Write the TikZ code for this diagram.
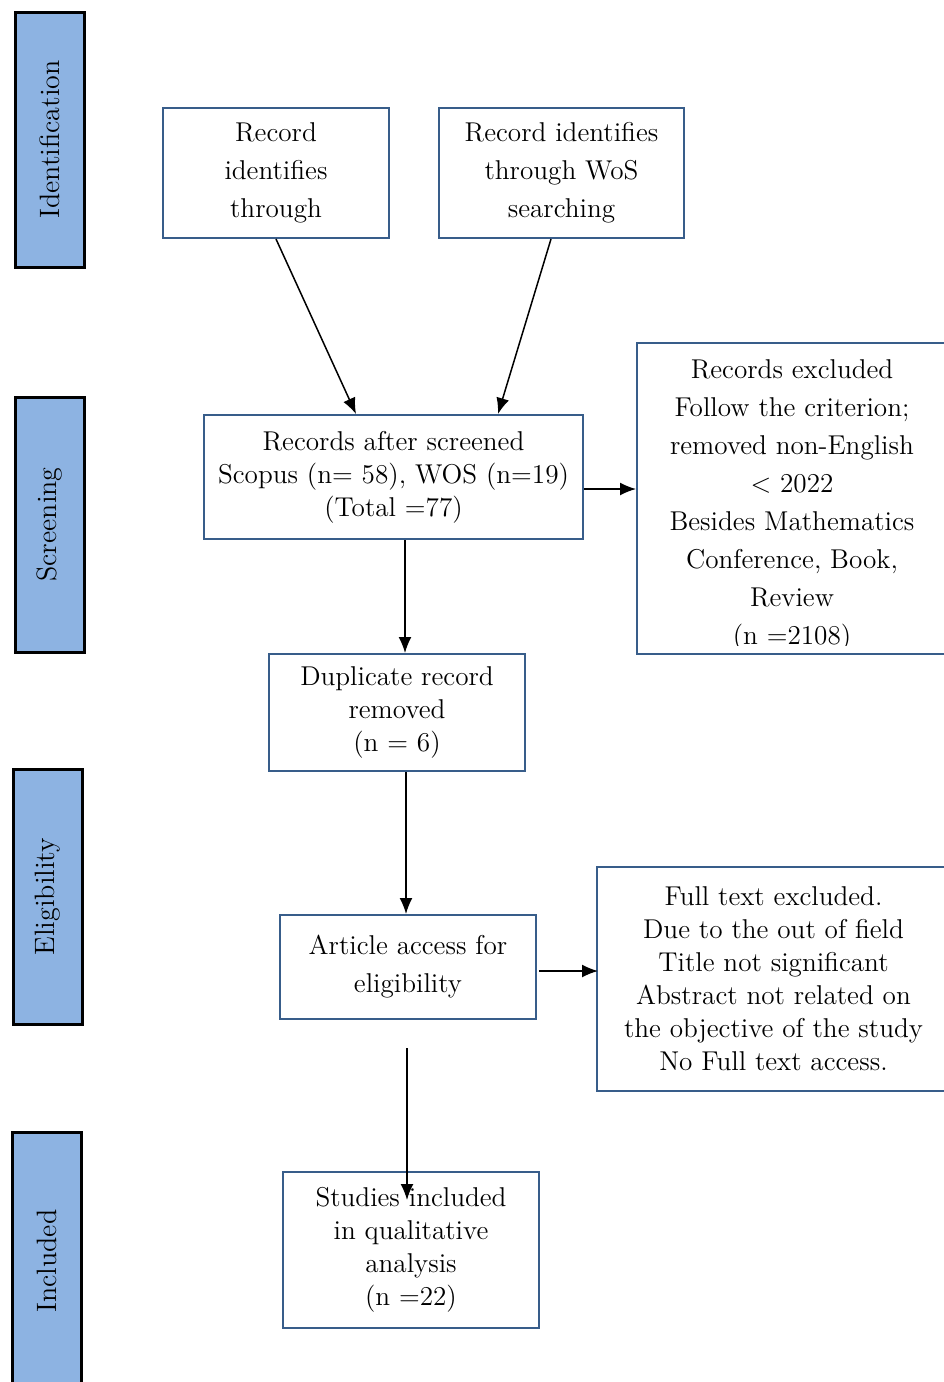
\documentclass[tikz,border=0pt]{standalone}
\usepackage{tikz}
\usetikzlibrary{arrows.meta}

\begin{document}
\begin{tikzpicture}[x=0.5pt,y=0.5pt,yscale=-1,xscale=1,
  stage/.style={draw=black,line width=1.5pt,fill={rgb, 255:red, 141; green, 179; blue, 226},rotate=90,inner sep=0pt,minimum width=127.5pt,minimum height=34.5pt,font=\fontsize{14}{16.5}\selectfont},
  box/.style={draw={rgb, 255:red, 56; green, 93; blue, 138},line width=1pt,inner sep=0pt,align=center,font=\fontsize{13.6}{16.5}\selectfont},
  widebox/.style={box,font=\fontsize{13.6}{19}\selectfont},
  flow/.style={line width=0.75pt,-{Latex[length=8pt,width=6.5pt]}}]
\useasboundingbox (0,0) rectangle (943,1382);

%Shape: Rectangle (stages)
\node[stage] (stageid) at (49.5,139.5) {Identification};
\node[stage] (stagescr) at (49.5,524.5) {Screening};
\node[stage] (stageelig) at (47.5,896.5) {Eligibility};
\node[stage,minimum width=129pt] (stageinc) at (46.5,1261) {Included};

%Shape: Rectangle (flow boxes)
\node[widebox,minimum width=113pt,minimum height=65pt] (idscopus) at (276,173) {Record\\identifies\\through};
\node[widebox,minimum width=122.5pt,minimum height=65pt] (idwos) at (561.5,173) {Record identifies\\through WoS\\searching};
\node[box,minimum width=189.5pt,minimum height=62pt] (screened) at (393.5,477) {Records after screened\\Scopus (n= 58), WOS (n=19)\\(Total =77)};
% text runs past the box and is cut at its foot
\node[box,minimum width=155pt,minimum height=155.5pt,
  path picture={
    \clip ([yshift=4.5pt]path picture bounding box.south west) rectangle (path picture bounding box.north east);
    \node[align=center,font=\fontsize{13.6}{19}\selectfont] at ([yshift=-3.25pt]path picture bounding box.center) {Records excluded\\Follow the criterion;\\removed non-English\\\textless{} 2022\\Besides Mathematics\\Conference, Book,\\Review\\(n =2108)};}] (excluded) at (792,498.5) {};
\node[box,minimum width=128pt,minimum height=58.5pt] (duplicate) at (397,712.5) {Duplicate record\\removed\\(n = 6)};
\node[widebox,minimum width=128pt,minimum height=52pt] (access) at (408,967) {Article access for\\eligibility};
\node[box,minimum width=176.5pt,minimum height=112pt] (fulltext) at (773.5,979) {Full text excluded.\\Due to the out of field\\Title not significant\\Abstract not related on\\the objective of the study\\No Full text access.};
\node[box,minimum width=128pt,minimum height=78pt] (studies) at (411,1250) {Studies included\\in qualitative\\analysis\\(n =22)};

%Straight Lines
\draw[flow] (idscopus.south) -- ([xshift=-18.75pt]screened.north);
\draw[flow] ([xshift=-5.25pt]idwos.south) -- ([xshift=52.25pt]screened.north);
\draw[flow] ([yshift=6pt]screened.east) -- ([yshift=6pt]screened.east -| excluded.west);
\draw[flow] ([xshift=5.75pt]screened.south) -- ([xshift=5.75pt]screened.south |- duplicate.north);
\draw[flow] ([xshift=4.5pt]duplicate.south) -- ([xshift=4.5pt]duplicate.south |- access.north);
\draw[flow] ([xshift=1pt,yshift=2pt]access.east) -- ([xshift=1pt,yshift=2pt]access.east -| fulltext.west);
\coordinate (gap) at (407,1048);
\coordinate (tipend) at (407,1200);
\draw[flow] (gap) -- (tipend);

\end{tikzpicture}
\end{document}
